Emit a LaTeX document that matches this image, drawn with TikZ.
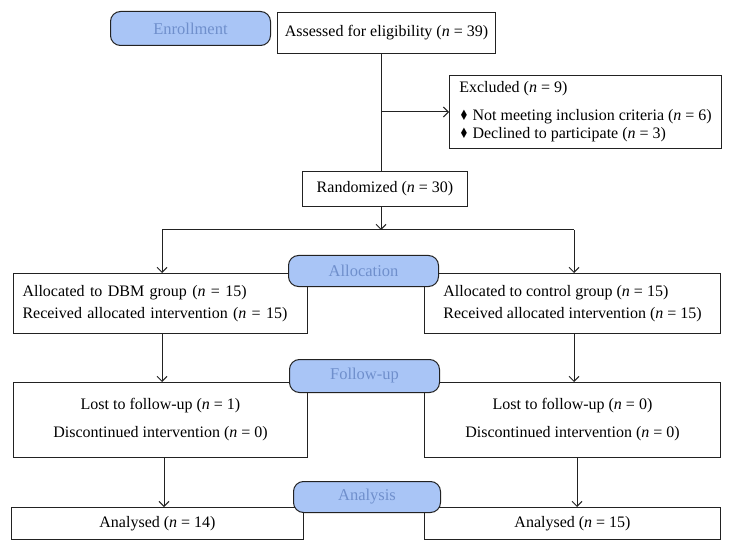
\documentclass[tikz,border=0pt]{standalone}
\usepackage{fontspec}
\setmainfont{Liberation Serif}
\newfontfamily\symfont{DejaVu Sans}
\usetikzlibrary{arrows.meta}
\definecolor{pillfill}{HTML}{A9C5F6}
\definecolor{pilltext}{HTML}{6F8FCC}
\definecolor{linec}{HTML}{222222}
\newcommand{\nn}{\textit{n}}
\newcommand{\dia}{{\symfont\fontsize{13bp}{13bp}\selectfont\scalebox{0.8}[1.1]{♦}}}
\begin{document}
\begin{tikzpicture}[x=1bp, y=-1bp,
  font=\fontsize{16bp}{19bp}\selectfont,
  box/.style={draw=linec, line width=1bp, rectangle, anchor=north west, inner sep=0pt, fill=white},
  pill/.style={draw=linec, fill=pillfill, line width=1bp, rounded corners=10bp, anchor=north west, text=pilltext, inner sep=0pt, font=\fontsize{16.5bp}{19bp}\selectfont},
  arr/.style={draw=linec, line width=1bp, -{Straight Barb[length=5bp,width=10bp]}},
  ln/.style={draw=linec, line width=1bp}]
\useasboundingbox (0,0) rectangle (732,550);
\fill[white] (0,0) rectangle (732,550);

% coordinates for connector columns
\coordinate (trunk) at (381,0);
\coordinate (split) at (381,230);
\coordinate (xa) at (162,0);
\coordinate (xb) at (574,0);
\coordinate (xc) at (164,0);
\coordinate (xd) at (577,0);

% boxes
\node[box, minimum width=218bp, minimum height=41bp] (ass) at (277,12) {Assessed for eligibility (\nn{} = 39)};
\node[box, minimum width=272bp, minimum height=73bp, align=left,
      font=\fontsize{16bp}{18bp}\selectfont] (exc) at (449,75)
  {Excluded (\nn{} = 9)\\[10bp]\dia{} Not meeting inclusion criteria (\nn{} = 6)\\\dia{} Declined to participate (\nn{} = 3)};
\node[box, minimum width=165bp, minimum height=35bp] (rand) at (302,171) {Randomized (\nn{} = 30)};

\node[box, minimum width=294bp, minimum height=60bp, inner xsep=9bp, text width=276bp, align=left,
      font=\fontsize{16bp}{22bp}\selectfont] (allocL) at (13,273)
  {Allocated to DBM group (\nn{} = 15)\\Received allocated intervention (\nn{} = 15)};
\node[box, minimum width=296bp, minimum height=60bp, align=left,
      font=\fontsize{16bp}{22bp}\selectfont] (allocR) at (424,273)
  {Allocated to control group (\nn{} = 15)\\Received allocated intervention (\nn{} = 15)};

\node[box, minimum width=294bp, minimum height=75bp, align=center,
      font=\fontsize{16bp}{28bp}\selectfont] (folL) at (13,382)
  {Lost to follow-up (\nn{} = 1)\\Discontinued intervention (\nn{} = 0)};
\node[box, minimum width=296bp, minimum height=75bp, align=center,
      font=\fontsize{16bp}{28bp}\selectfont] (folR) at (424,382)
  {Lost to follow-up (\nn{} = 0)\\Discontinued intervention (\nn{} = 0)};

\node[box, minimum width=292bp, minimum height=32bp] (anaL) at (11,507) {Analysed (\nn{} = 14)};
\node[box, minimum width=296bp, minimum height=32bp] (anaR) at (424,507) {Analysed (\nn{} = 15)};

% connectors
\draw[ln] (ass.south -| trunk) -- (rand.north -| trunk);
\draw[arr] (exc.west -| trunk) -- (exc.west);
\draw[arr] (rand.south -| trunk) -- (split);
\draw[ln] (split -| xa) -- (split -| xb);
\draw[arr] (split -| xa) -- (allocL.north -| xa);
\draw[arr] (split -| xb) -- (allocR.north -| xb);
\draw[arr] (allocL.south -| xa) -- (folL.north -| xa);
\draw[arr] (allocR.south -| xb) -- (folR.north -| xb);
\draw[arr] (folL.south -| xc) -- (anaL.north -| xc);
\draw[arr] (folR.south -| xd) -- (anaR.north -| xd);

% stage pills
\node[pill, minimum width=160bp, minimum height=34bp] (enr) at (110,11) {Enrollment};
\node[pill, minimum width=150bp, minimum height=31bp] (allocP) at (288,255) {Allocation};
\node[pill, minimum width=150bp, minimum height=33bp] (folP) at (289,359) {Follow-up};
\node[pill, minimum width=147bp, minimum height=31bp] (anaP) at (293,481) {Analysis};
\end{tikzpicture}
\end{document}
